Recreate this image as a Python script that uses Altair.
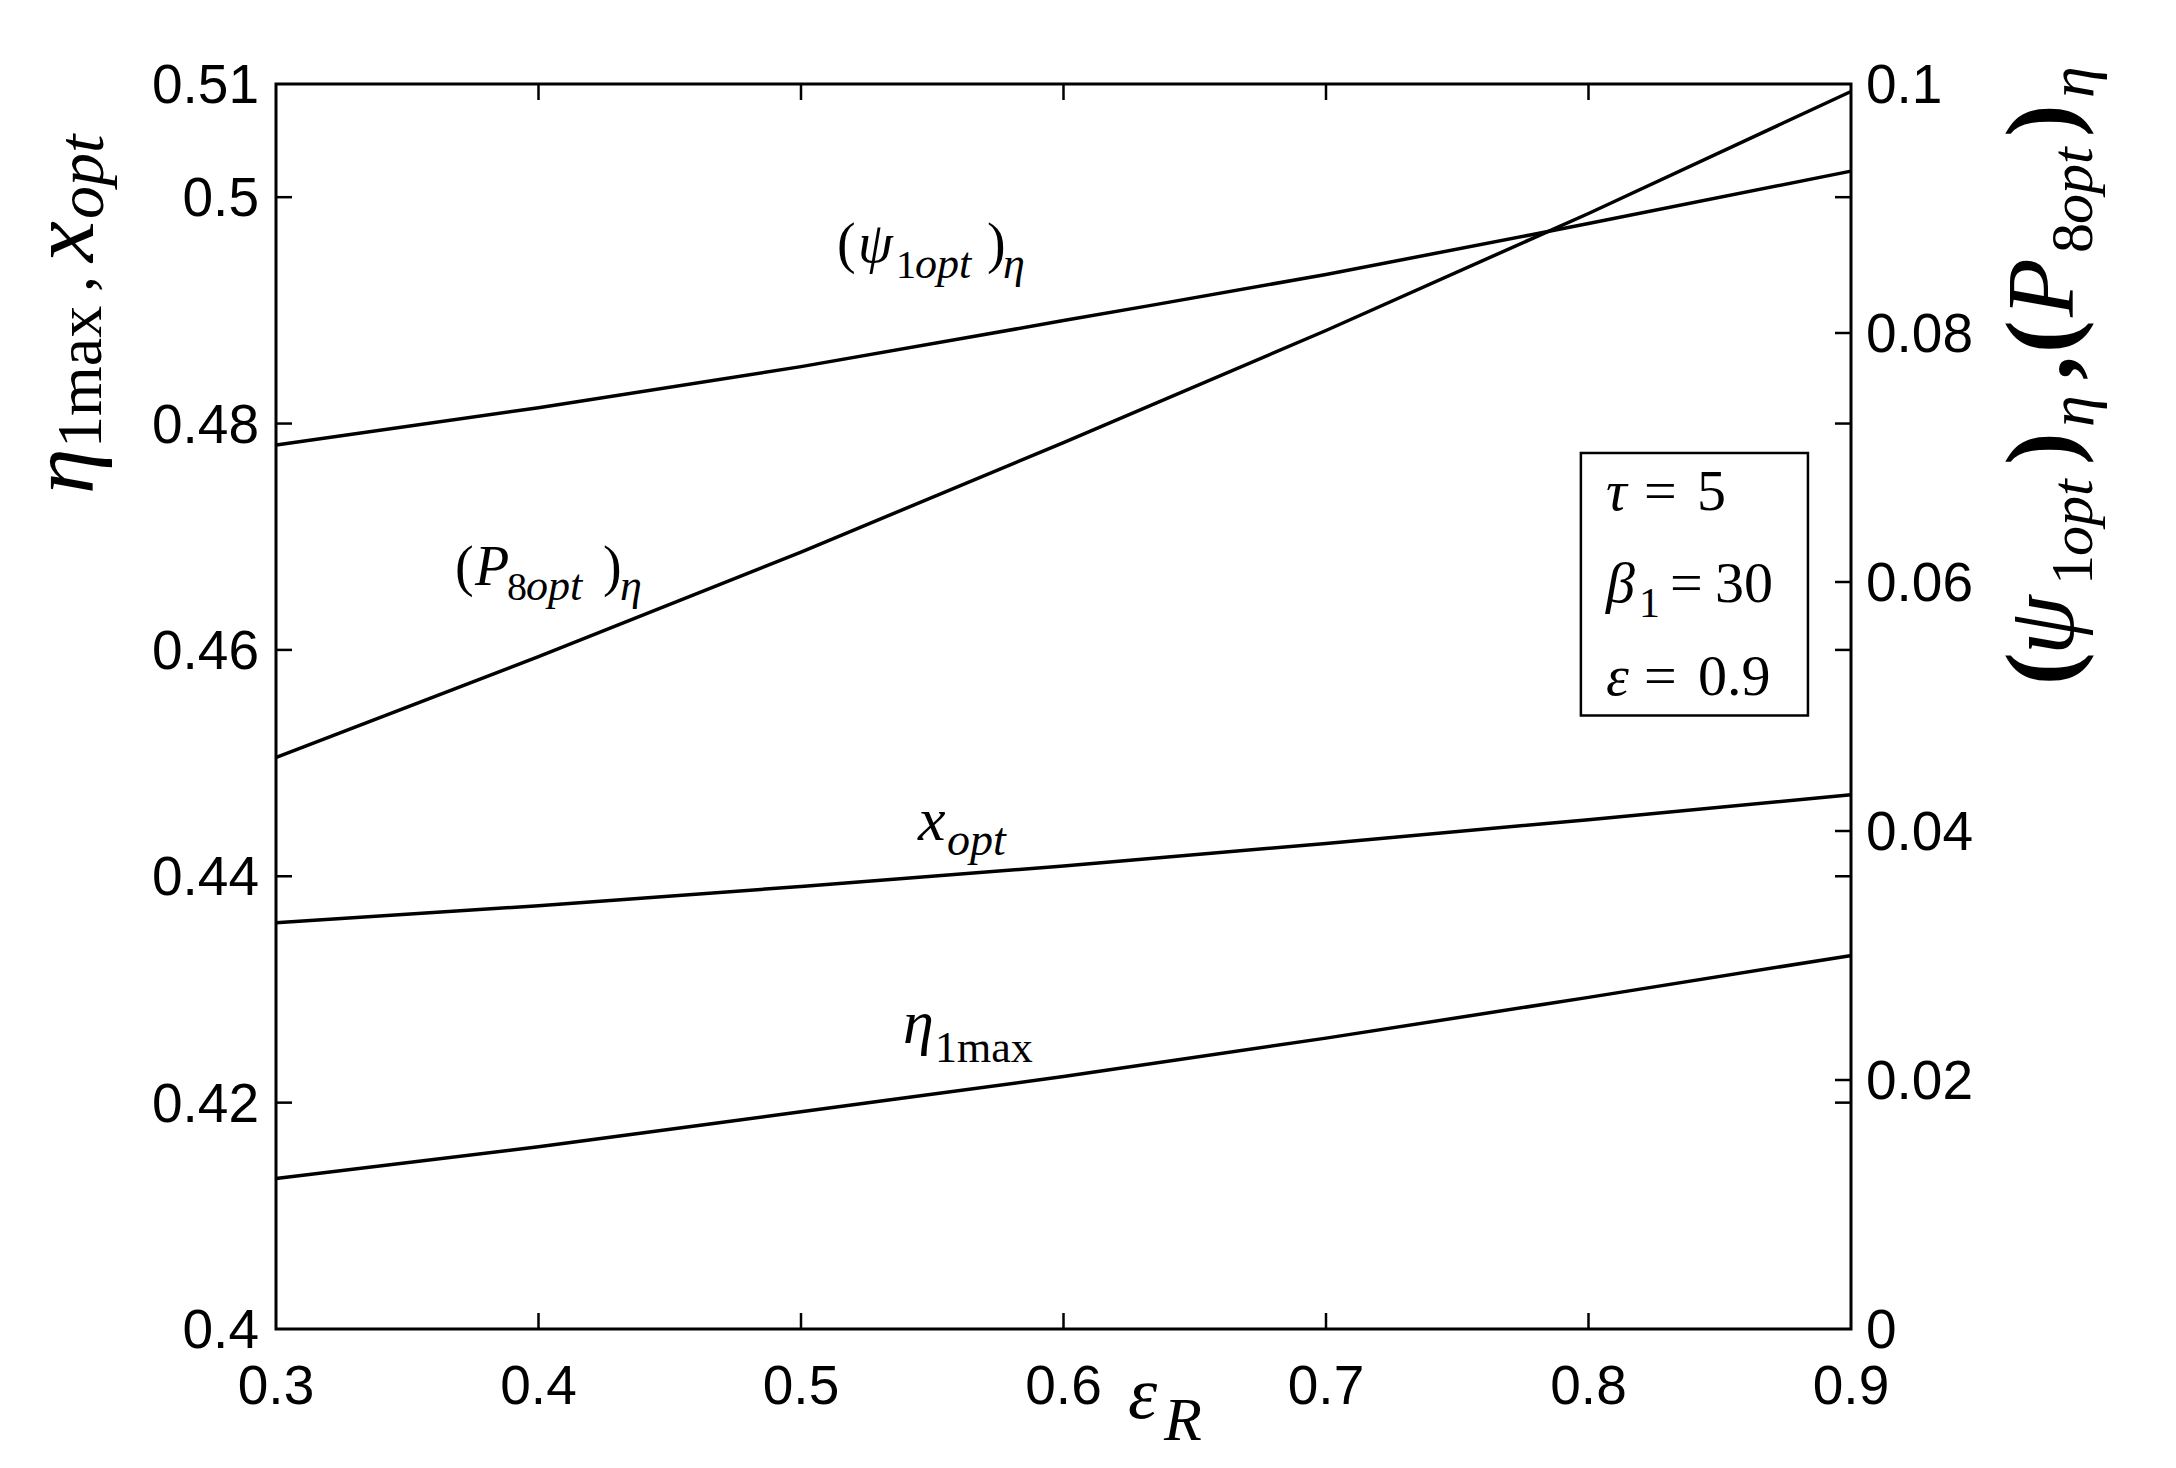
import altair as alt
import pandas as pd

# ---------------- data ----------------
eps_R = [0.3, 0.4, 0.5, 0.6, 0.7, 0.8, 0.9]
eta1max = [0.4133, 0.4161, 0.4192, 0.4223, 0.4257, 0.4293, 0.4330]
x_opt = [0.4359, 0.4374, 0.4391, 0.4409, 0.4429, 0.4450, 0.4472]
psi1opt = [0.0710, 0.0740, 0.0773, 0.0810, 0.0847, 0.0888, 0.0930]
p8opt = [0.0459, 0.0540, 0.0624, 0.0712, 0.0802, 0.0896, 0.0994]

x_ticks = [0.3, 0.4, 0.5, 0.6, 0.7, 0.8, 0.9]
x_tick_labels = ["0.3", "0.4", "0.5", "0.6", "0.7", "0.8", "0.9"]
left_ticks = [0.4, 0.42, 0.44, 0.46, 0.48, 0.5, 0.51]
left_tick_labels = ["0.4", "0.42", "0.44", "0.46", "0.48", "0.5", "0.51"]
right_ticks = [0, 0.02, 0.04, 0.06, 0.08, 0.1]
right_tick_labels = ["0", "0.02", "0.04", "0.06", "0.08", "0.1"]

# label anchors (data coords, left scale)
lab_psi = (0.5137, 0.4943)
lab_p8 = (0.3682, 0.4657)
lab_xopt = (0.5446, 0.4432)
lab_eta = (0.5389, 0.4253)
box_x = [0.7971, 0.8836]
box_y = [0.4542, 0.4774]
box_lines_x = 0.8067
box_lines_y = [0.4724, 0.4642, 0.4560]

W, H = 1575, 1245
TL = 16  # inward tick length

xs = alt.Scale(domain=[0.3, 0.9], nice=False, zero=False)
yL = alt.Scale(domain=[0.4, 0.51], nice=False, zero=False)
yR = alt.Scale(domain=[0.0, 0.1], nice=False, zero=False)

SERIF = "Liberation Serif"
SANS = "Liberation Sans"
LW = 3.5

left_df = pd.DataFrame({
    "x": eps_R * 2,
    "v": eta1max + x_opt,
    "s": ["eta"] * len(eps_R) + ["xopt"] * len(eps_R),
})
right_df = pd.DataFrame({
    "x": eps_R * 2,
    "v": psi1opt + p8opt,
    "s": ["psi"] * len(eps_R) + ["p8"] * len(eps_R),
})

lines_left = alt.Chart(left_df).mark_line(color="black", strokeWidth=LW, interpolate="monotone").encode(
    x=alt.X("x:Q", scale=xs, axis=None),
    y=alt.Y("v:Q", scale=yL, axis=None),
    detail="s:N",
)
lines_right = alt.Chart(right_df).mark_line(color="black", strokeWidth=LW, interpolate="monotone").encode(
    x=alt.X("x:Q", scale=xs, axis=None),
    y=alt.Y("v:Q", scale=yR, axis=None),
    detail="s:N",
)

# inward ticks
def yticks(vals, scale, side):
    df = pd.DataFrame({"v": vals})
    xa, xb = (0, TL) if side == "left" else (W - TL, W)
    return alt.Chart(df).mark_rule(color="black", strokeWidth=2.5).encode(
        y=alt.Y("v:Q", scale=scale, axis=None), x=alt.value(xa), x2=alt.value(xb))

def xticks(vals, side):
    df = pd.DataFrame({"v": vals})
    ya, yb = (0, TL) if side == "top" else (H - TL, H)
    return alt.Chart(df).mark_rule(color="black", strokeWidth=2.5).encode(
        x=alt.X("v:Q", scale=xs, axis=None), y=alt.value(ya), y2=alt.value(yb))

# tick labels
def ylabels(vals, labs, scale, side):
    df = pd.DataFrame({"v": vals, "t": labs})
    if side == "left":
        mk = alt.Chart(df).mark_text(font=SANS, fontSize=55, align="right", baseline="middle",
                                     color="black", dy=2)
        xv = alt.value(-17)
    else:
        mk = alt.Chart(df).mark_text(font=SANS, fontSize=55, align="left", baseline="middle",
                                     color="black", dy=2)
        xv = alt.value(W + 15)
    return mk.encode(y=alt.Y("v:Q", scale=scale, axis=None), x=xv, text="t:N")

def xlabels(vals, labs):
    df = pd.DataFrame({"v": vals, "t": labs})
    return alt.Chart(df).mark_text(font=SANS, fontSize=55, align="center", baseline="top",
                                   color="black").encode(
        x=alt.X("v:Q", scale=xs, axis=None), y=alt.value(H + 32), text="t:N")

# text pieces anchored in data coords
def piece(anchor, text, size, dx=0, dy=0, italic=False, bold=False):
    df = pd.DataFrame({"x": [anchor[0]], "y": [anchor[1]]})
    return alt.Chart(df).mark_text(
        text=text, font=SERIF, fontSize=size, fontStyle="italic" if italic else "normal",
        fontWeight="bold" if bold else "normal", align="left", baseline="alphabetic",
        dx=dx, dy=dy, color="black").encode(
        x=alt.X("x:Q", scale=xs, axis=None), y=alt.Y("y:Q", scale=yL, axis=None))

# text pieces anchored in pixels (axis titles)
def ppiece(px, py, text, size, dx=0, dy=0, italic=False, bold=False, angle=0):
    df = pd.DataFrame({"a": [0]})
    kw = dict(text=text, font=SERIF, fontSize=size, fontStyle="italic" if italic else "normal",
              fontWeight="bold" if bold else "normal", align="left", baseline="alphabetic",
              dx=dx, dy=dy, color="black")
    if angle:
        kw["angle"] = angle
    return alt.Chart(df).mark_text(**kw).encode(x=alt.value(px), y=alt.value(py))

annotations = [
    # (psi_1opt)_eta
    piece(lab_psi, "(", 56),
    piece(lab_psi, "ψ", 56, dx=21, italic=True),
    piece(lab_psi, "1", 40, dx=59, dy=16),
    piece(lab_psi, "opt", 44, dx=78, dy=16, italic=True),
    piece(lab_psi, ")", 56, dx=150),
    piece(lab_psi, "η", 44, dx=166, dy=16, italic=True),
    # (P_8opt)_eta
    piece(lab_p8, "(", 56),
    piece(lab_p8, "P", 56, dx=20, italic=True),
    piece(lab_p8, "8", 40, dx=52, dy=15),
    piece(lab_p8, "opt", 44, dx=71, dy=15, italic=True),
    piece(lab_p8, ")", 56, dx=148),
    piece(lab_p8, "η", 44, dx=165, dy=15, italic=True),
    # x_opt
    piece(lab_xopt, "x", 62, italic=True),
    piece(lab_xopt, "opt", 46, dx=29, dy=15, italic=True),
    # eta_1max
    piece(lab_eta, "η", 62, italic=True),
    piece(lab_eta, "1max", 44, dx=32, dy=19),
]

box_df = pd.DataFrame({"x": [box_x[0]], "x2": [box_x[1]], "y": [box_y[0]], "y2": [box_y[1]]})
box = alt.Chart(box_df).mark_rect(fill="white", stroke="black", strokeWidth=2.5).encode(
    x=alt.X("x:Q", scale=xs, axis=None), x2="x2:Q",
    y=alt.Y("y:Q", scale=yL, axis=None), y2="y2:Q")

b1 = (box_lines_x, box_lines_y[0])
b2 = (box_lines_x, box_lines_y[1])
b3 = (box_lines_x, box_lines_y[2])
box_text = [
    piece(b1, "τ", 58, italic=True), piece(b1, "=", 58, dx=38), piece(b1, "5", 58, dx=91),
    piece(b2, "β", 58, italic=True), piece(b2, "1", 42, dx=33, dy=15),
    piece(b2, "=", 58, dx=64), piece(b2, "30", 58, dx=109),
    piece(b3, "ε", 58, italic=True), piece(b3, "=", 58, dx=38), piece(b3, "0.9", 58, dx=92),
]

# axis titles
LX, LY = -183, 410
RX, RY = 1797, 601
left_title = [
    ppiece(LX, LY, "η", 92, italic=True, angle=270),
    ppiece(LX, LY, "1max", 64, dx=46, dy=8, angle=270),
    ppiece(LX, LY, ",", 64, dx=202, angle=270),
    ppiece(LX, LY, "x", 92, dx=232, italic=True, angle=270),
    ppiece(LX, LY, "opt", 66, dx=275, dy=10, italic=True, angle=270),
]
right_title = [
    ppiece(RX, RY, "(", 98, bold=True, angle=270),
    ppiece(RX, RY, "ψ", 96, dx=30, italic=True, angle=270),
    ppiece(RX, RY, "1", 60, dx=100, dy=19, angle=270),
    ppiece(RX, RY, "opt", 60, dx=129, dy=19, italic=True, angle=270),
    ppiece(RX, RY, ")", 98, dx=220, bold=True, angle=270),
    ppiece(RX, RY, "η", 64, dx=258, dy=20, italic=True, angle=270),
    ppiece(RX, RY, ",", 96, dx=305, bold=True, angle=270),
    ppiece(RX, RY, "(", 98, dx=332, bold=True, angle=270),
    ppiece(RX, RY, "P", 96, dx=368, italic=True, angle=270),
    ppiece(RX, RY, "8", 60, dx=432, dy=19, angle=270),
    ppiece(RX, RY, "opt", 60, dx=461, dy=19, italic=True, angle=270),
    ppiece(RX, RY, ")", 98, dx=548, bold=True, angle=270),
    ppiece(RX, RY, "η", 64, dx=587, dy=20, italic=True, angle=270),
]
x_title = [
    ppiece(852, 1334, "ε", 74, italic=True),
    ppiece(852, 1334, "R", 62, dx=36, dy=22, italic=True),
]

inner_left = [v for v in left_ticks if 0.4 < v < 0.51]
inner_right = [v for v in right_ticks if 0 < v < 0.1]
inner_x = [v for v in x_ticks if 0.3 < v < 0.9]

left_group = alt.layer(
    lines_left,
    yticks(inner_left, yL, "left"),
    yticks(inner_left, yL, "right"),
    xticks(inner_x, "top"),
    xticks(inner_x, "bottom"),
    ylabels(left_ticks, left_tick_labels, yL, "left"),
    xlabels(x_ticks, x_tick_labels),
    box,
    *annotations,
    *box_text,
    *left_title,
    *right_title,
    *x_title,
)
right_group = alt.layer(
    lines_right,
    yticks(inner_right, yR, "right"),
    ylabels(right_ticks, right_tick_labels, yR, "right"),
)

chart = alt.layer(left_group, right_group).resolve_scale(y="independent").properties(
    width=W, height=H,
    autosize=alt.AutoSizeParams(type="none"),
    padding={"left": 268, "top": 76, "right": 300, "bottom": 135},
    background="white",
).configure_view(stroke="black", strokeWidth=3)

chart.save("out.html", embed_options={"renderer": "svg", "actions": False})
